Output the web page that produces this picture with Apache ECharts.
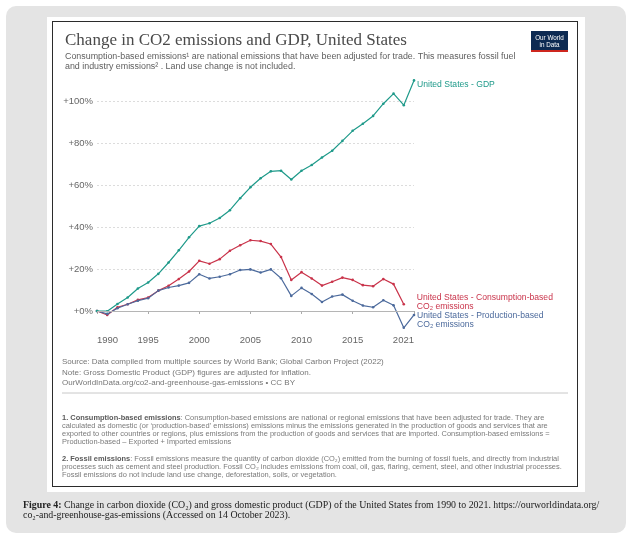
<!DOCTYPE html>
<html>
<head>
<meta charset="utf-8">
<script src="https://cdn.jsdelivr.net/npm/echarts@6/dist/echarts.min.js"></script>
<style>
  html, body { margin: 0; padding: 0; background: #fff; width: 637px; height: 539px; overflow: hidden; }
  .outer { position: absolute; left: 6px; top: 6px; width: 620px; height: 527px; background: #e4e4e4; border-radius: 10px; }
  .panel { position: absolute; left: 47px; top: 17px; width: 538px; height: 475px; background: #fff; }
  .frame { position: absolute; left: 52px; top: 21px; width: 524px; height: 464px; border: 1.5px solid #2b2b2b; }
  #chart { position: absolute; left: 0; top: 0; width: 637px; height: 539px; }
</style>
</head>
<body>
<div class="outer"></div>
<div class="panel"></div>
<div class="frame"></div>
<div id="chart"></div>
<script>
// years on the x axis
var years = ['1990', '1991', '1992', '1993', '1994', '1995', '1996', '1997', '1998', '1999',
  '2000', '2001', '2002', '2003', '2004', '2005', '2006', '2007', '2008', '2009',
  '2010', '2011', '2012', '2013', '2014', '2015', '2016', '2017', '2018', '2019',
  '2020', '2021'];
// labelled years
var tickYears = ['1990', '1995', '2000', '2005', '2010', '2015', '2021'];

// % change relative to 1990
var gdp = [0, -0.1, 3.3, 6.4, 10.7, 13.6, 17.7, 23.1, 28.9, 35.1,
  40.4, 41.8, 44.3, 48.0, 53.7, 58.9, 63.2, 66.5, 66.8, 62.6,
  66.8, 69.5, 73.1, 76.3, 81.0, 85.8, 89.2, 92.9, 98.7, 103.5,
  98.0, 109.8];
// consumption-based data stops at 2020
var consumption = [0, -1.9, 1.8, 3.2, 5.3, 6.4, 9.7, 12.0, 15.2, 18.8,
  23.9, 22.5, 24.7, 28.7, 31.3, 33.7, 33.3, 31.9, 25.7, 14.8,
  18.5, 15.5, 12.1, 13.9, 15.9, 14.8, 12.3, 11.8, 15.2, 12.8,
  3.2];
var production = [0, -1.4, 1.3, 3.2, 4.9, 6.1, 9.7, 11.2, 12.1, 13.4,
  17.5, 15.5, 16.3, 17.5, 19.5, 19.8, 18.3, 19.8, 15.6, 7.2,
  11.0, 8.1, 4.3, 6.9, 7.8, 4.9, 2.6, 1.8, 5.1, 2.7,
  -8.0, -1.9];

var sans = '"Liberation Sans", Arial, sans-serif';
var serif = '"Liberation Serif", "Times New Roman", serif';
var gdpColor = '#1f9a8a';
var consColor = '#c9334a';
var prodColor = '#4c6a9c';

function showYear(idx, val) {
  return tickYears.indexOf(val) >= 0;
}

//底部文字
var footText = [
  { y: 362, t: 'Source: Data compiled from multiple sources by World Bank; Global Carbon Project (2022)' },
  { y: 373, t: 'Note: Gross Domestic Product (GDP) figures are adjusted for inflation.' },
  { y: 383, t: 'OurWorldInData.org/co2-and-greenhouse-gas-emissions • CC BY' }
];
var note1 = [
  '{b|1. Consumption-based emissions}: Consumption-based emissions are national or regional emissions that have been adjusted for trade. They are',
  'calculated as domestic (or \u2018production-based\u2019 emissions) emissions minus the emissions generated in the production of goods and services that are',
  'exported to other countries or regions, plus emissions from the production of goods and services that are imported. Consumption-based emissions =',
  'Production-based \u2013 Exported + Imported emissions'
];
var note2 = [
  '{b|2. Fossil emissions}: Fossil emissions measure the quantity of carbon dioxide (CO\u2082) emitted from the burning of fossil fuels, and directly from industrial',
  'processes such as cement and steel production. Fossil CO\u2082 includes emissions from coal, oil, gas, flaring, cement, steel, and other industrial processes.',
  'Fossil emissions do not include land use change, deforestation, soils, or vegetation.'
];

var graphics = [];
footText.forEach(function(f) {
  graphics.push({ type: 'text', left: 62, top: f.y - 4.5,
    style: { text: f.t, font: '8px ' + sans, fill: '#767676' } });
});
graphics.push({ type: 'line', shape: { x1: 62, y1: 393, x2: 568, y2: 393 },
  style: { stroke: '#c8c8c8', lineWidth: 1 } });
note1.forEach(function(t, i) {
  graphics.push({ type: 'text', left: 62, top: 414 + i * 8,
    style: { text: t, font: '7.45px ' + sans, fill: '#7a7a7a',
      rich: { b: { font: 'bold 7.45px ' + sans, fill: '#5a5a5a' } } } });
});
note2.forEach(function(t, i) {
  graphics.push({ type: 'text', left: 62, top: 455 + i * 8,
    style: { text: t, font: '7.45px ' + sans, fill: '#7a7a7a',
      rich: { b: { font: 'bold 7.45px ' + sans, fill: '#5a5a5a' } } } });
});
// logo
graphics.push({ type: 'rect', shape: { x: 531, y: 31, width: 37, height: 21 }, style: { fill: '#0d2a52' } });
graphics.push({ type: 'rect', shape: { x: 531, y: 50, width: 37, height: 2 }, style: { fill: '#ce261e' } });
graphics.push({ type: 'text', x: 549.5, y: 38.5,
  style: { text: 'Our World', font: '6.3px ' + sans, fill: '#fff', align: 'center', verticalAlign: 'middle' } });
graphics.push({ type: 'text', x: 549.5, y: 45.5,
  style: { text: 'in Data', font: '6.3px ' + sans, fill: '#fff', align: 'center', verticalAlign: 'middle' } });
// caption
graphics.push({ type: 'text', left: 23, top: 500,
  style: { text: '{b|Figure 4:} Change in carbon dioxide (CO\u2082) and gross domestic product (GDP) of the United States from 1990 to 2021. https://ourworldindata.org/',
    font: '9.9px ' + serif, fill: '#222', rich: { b: { font: 'bold 9.9px ' + serif, fill: '#222' } } } });
graphics.push({ type: 'text', left: 23, top: 510,
  style: { text: 'co\u2082-and-greenhouse-gas-emissions (Accessed on 14 October 2023).', font: '9.9px ' + serif, fill: '#222' } });

var option = {
  animation: false,
  title: {
    text: 'Change in CO2 emissions and GDP, United States',
    subtext: 'Consumption-based emissions\u00b9 are national emissions that have been adjusted for trade. This measures fossil fuel\nand industry emissions\u00b2 . Land use change is not included.',
    left: 60,
    top: 27,
    itemGap: 3,
    textStyle: { fontFamily: serif, fontSize: 17, fontWeight: 'normal', color: '#4a4a4a' },
    subtextStyle: { fontFamily: sans, fontSize: 8.9, color: '#5e5e5e', lineHeight: 9.5 }
  },
  grid: { left: 97, right: 223, top: 80, bottom: 207, containLabel: false },
  xAxis: {
    type: 'category',
    boundaryGap: false,
    data: years,
    axisLine: { show: false },
    axisTick: { show: true, interval: showYear, length: 3, lineStyle: { color: '#aaa' } },
    axisLabel: {
      interval: showYear,
      margin: 3,
      fontFamily: sans,
      fontSize: 9.5,
      color: '#666',
      alignMinLabel: 'left',
      alignMaxLabel: 'right'
    },
    splitLine: { show: false }
  },
  yAxis: {
    type: 'value',
    min: -10,
    max: 110,
    interval: 10,
    axisLine: { show: false },
    axisTick: { show: false },
    axisLabel: {
      margin: 4,
      fontFamily: sans,
      fontSize: 9.5,
      color: '#666',
      formatter: function(v) { return v % 20 === 0 ? '+' + v + '%' : ''; }
    },
    splitLine: { show: true, lineStyle: { color: ['transparent', '#dcdcdc'], type: [2, 2], width: 1 } }
  },
  series: [
    {
      name: 'United States - GDP',
      type: 'line',
      data: gdp,
      symbol: 'circle',
      symbolSize: 2.6,
      lineStyle: { width: 1.2, color: gdpColor },
      itemStyle: { color: gdpColor },
      endLabel: { show: true, formatter: 'United States - GDP', distance: 3, offset: [0, 4],
        fontFamily: sans, fontSize: 8.6, color: gdpColor },
      markLine: {
        silent: true, symbol: 'none', label: { show: false },
        lineStyle: { color: '#b5b5b5', type: 'solid', width: 1 },
        data: [{ yAxis: 0 }]
      },
      z: 4
    },
    {
      name: 'United States - Consumption-based CO\u2082 emissions',
      type: 'line',
      data: consumption,
      symbol: 'circle',
      symbolSize: 2.6,
      lineStyle: { width: 1.2, color: consColor },
      itemStyle: { color: consColor },
      endLabel: { show: true, formatter: 'United States - Consumption-based\nCO\u2082 emissions', distance: 3, offset: [10, -2],
        fontFamily: sans, fontSize: 8.6, lineHeight: 8.5, color: consColor },
      z: 3
    },
    {
      name: 'United States - Production-based CO\u2082 emissions',
      type: 'line',
      data: production,
      symbol: 'circle',
      symbolSize: 2.6,
      lineStyle: { width: 1.2, color: prodColor },
      itemStyle: { color: prodColor },
      endLabel: { show: true, formatter: 'United States - Production-based\nCO\u2082 emissions', distance: 3, offset: [0, 5],
        fontFamily: sans, fontSize: 8.6, lineHeight: 8.5, color: prodColor },
      z: 3
    }
  ],
  graphic: graphics
};

var myChart = echarts.init(document.getElementById('chart'), null, { renderer: 'canvas' });
myChart.setOption(option);
</script>
</body>
</html>
